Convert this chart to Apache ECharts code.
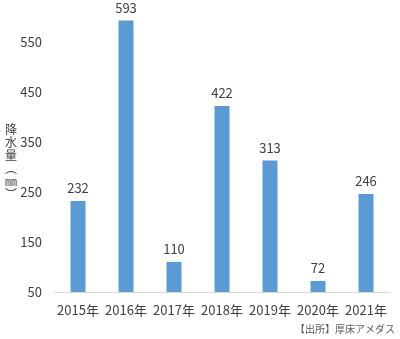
<!DOCTYPE html>
<html><head><meta charset="utf-8">
<script src="https://cdn.jsdelivr.net/npm/echarts@6/dist/echarts.min.js"></script>
<style>html,body{margin:0;padding:0;background:#fff}#c{width:400px;height:339px}</style>
</head><body><div id="c"></div>
<script>
const categories = ['2015年','2016年','2017年','2018年','2019年','2020年','2021年'];
const rainfall = [232, 593, 110, 422, 313, 72, 246];
const yTickLabels = [50, 150, 250, 350, 450, 550];
const yTitle = '降\n水\n量\n︵\n㎜\n︶';
const sourceText = '【出所】厚床アメダス';

const FONT = '"Noto Sans CJK JP", "Noto Sans", sans-serif';
const chart = echarts.init(document.getElementById('c'), null, {renderer: 'canvas'});
chart.setOption({
  animation: false,
  backgroundColor: '#fff',
  grid: {left: 54, right: 10, top: 17, bottom: 47, containLabel: false},
  xAxis: {
    type: 'category', data: categories,
    axisLine: {show: true, lineStyle: {color: '#d9d9d9', width: 1}},
    axisTick: {show: false},
    axisLabel: {interval: 0, color: '#404040', fontSize: 13, fontFamily: FONT, margin: 12}
  },
  yAxis: {
    type: 'value', min: 50, max: 600, interval: 50,
    axisLine: {show: false}, axisTick: {show: false},
    splitLine: {show: false},
    axisLabel: {
      color: '#404040', fontSize: 13, fontFamily: FONT, margin: 12,
      formatter: v => yTickLabels.includes(v) ? String(v) : ''
    }
  },
  series: [{
    type: 'bar', data: rainfall, barWidth: 15,
    itemStyle: {color: '#5B9BD5'},
    label: {show: true, position: 'top', distance: 6, color: '#404040', fontSize: 13, fontFamily: FONT}
  }],
  graphic: [
    {type: 'text', left: 5, top: 123, style: {text: yTitle, fill: '#404040', fontSize: 12, lineHeight: 13, fontFamily: FONT}},
    {type: 'text', right: 5, top: 324, style: {text: sourceText, fill: '#595959', fontSize: 10, fontFamily: FONT}}
  ]
});
</script></body></html>
